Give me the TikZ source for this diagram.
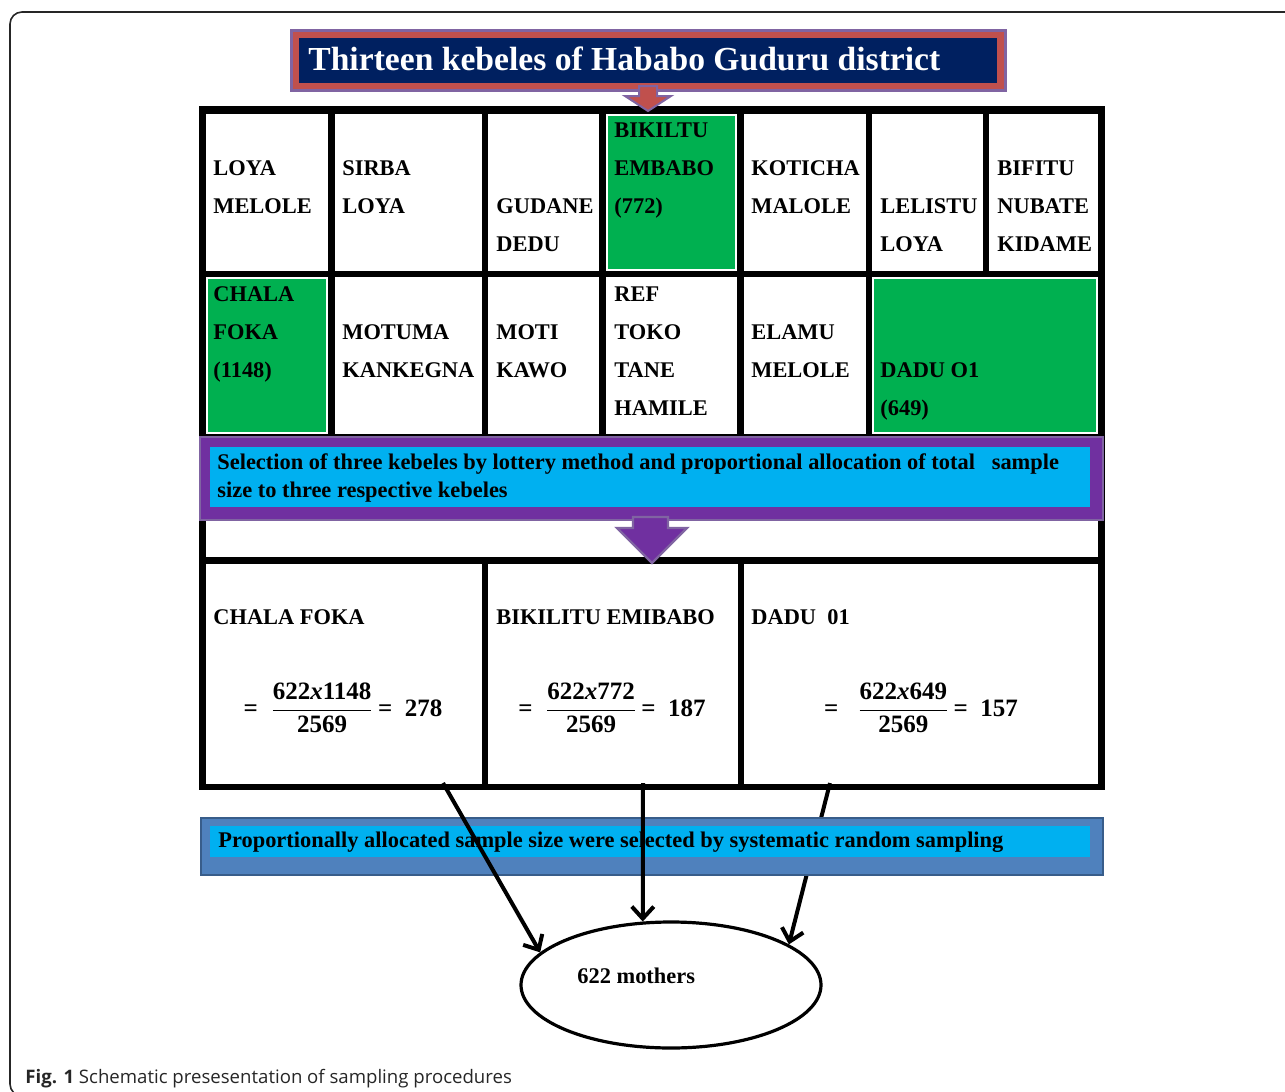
\documentclass[tikz,border=0pt]{standalone}
\usepackage{amsmath}
\usepackage{fontspec}
\setmainfont{Liberation Serif}
\newfontfamily\capfont{Open Sans}
\usepackage{xcolor}
\usetikzlibrary{
  arrows.meta,
  calc,
  shapes.geometric
}
\definecolor{tnavy}{HTML}{002060}
\definecolor{tred}{HTML}{C0504D}
\definecolor{tpurple}{HTML}{8064A2}
\definecolor{kgreen}{HTML}{00B050}
\definecolor{spurple}{HTML}{7030A0}
\definecolor{scyan}{HTML}{00B0F0}
\definecolor{bblue}{HTML}{4F81BD}
\definecolor{bdark}{HTML}{385D8A}
\newcommand{\kfont}{\fontsize{11.2}{19}\selectfont\bfseries}
\newcommand{\selfont}{\fontsize{11.2}{14}\selectfont\bfseries}
\newcommand{\fracfont}{\fontsize{12.5}{15}\selectfont\bfseries}

\begin{document}
\begin{tikzpicture}[
    x=0.5pt, y=-0.5pt,
    cell/.style={
      fill=white,
      draw=black,
      double=white,
      double distance=0.6pt,
      line width=0.4pt
    },
    gcell/.style={cell, fill=kgreen},
    kname/.style={
      anchor=base west,
      align=left,
      inner sep=0pt,
      font=\kfont
    },
    band/.style={
      anchor=base west,
      align=left,
      inner sep=0pt,
      font=\selfont
    },
    frm/.style={inner sep=0pt, font=\fracfont},
    ar/.style={-{Straight Barb[length=6pt,width=11pt]}, line width=2pt}
  ]
    \useasboundingbox (0,0) rectangle (1285,1092);

    % outer frame of the figure
    \draw[line width=0.8pt, black!85, rounded corners=6pt] (10,12) rectangle (1300,1096);

    % Title banner
    \fill[tpurple] (290,29) rectangle (1007,92);
    \fill[tred] (293,32) rectangle (1004,89);
    \fill[tnavy] (299,38) rectangle (997,83);
    \node[anchor=base west, inner sep=0pt, text=white,
      font=\fontsize{16.8}{20}\selectfont\bfseries] (title) at (308,70)
      {Thirteen kebeles of Hababo Guduru district};

    % Table of the thirteen kebeles
    \fill[black] (199,106) rectangle (1105,790);
    \draw[cell] (207,115) rectangle (327,270);
    \draw[cell] (336,115) rectangle (481,270);
    \draw[cell] (489,115) rectangle (598,270);
    \draw[gcell] (607,115) rectangle (736,270);
    \draw[cell] (745,115) rectangle (865,270);
    \draw[cell] (873,115) rectangle (982,270);
    \draw[cell] (990,115) rectangle (1097,270);

    \draw[gcell] (207,278) rectangle (327,433);
    \draw[cell] (336,278) rectangle (481,433);
    \draw[cell] (489,278) rectangle (598,433);
    \draw[cell] (607,278) rectangle (736,433);
    \draw[cell] (745,278) rectangle (865,433);
    \draw[gcell] (873,278) rectangle (1097,433);

    \draw[cell] (207,441) rectangle (1097,556);

    \draw[cell] (207,565) rectangle (481,783);
    \draw[cell] (489,565) rectangle (737,783);
    \draw[cell] (745,565) rectangle (1097,783);

    % arrow from the title into the table
    \filldraw[fill=tred, draw=tpurple, line width=1pt]
      (639,86) -- (657,86) -- (657,96) -- (671,96) -- (648,111)
      -- (625,96) -- (639,96) -- cycle;

    % kebele names, first row (placed at the last line)
    \node[kname] (k1) at (213,213) {LOYA\\MELOLE};
    \node[kname] (k2) at (342,213) {SIRBA\\LOYA};
    \node[kname] (k3) at (496,251) {GUDANE\\DEDU};
    \node[kname] (k4) at (614,213) {BIKILTU\\EMBABO\\(772)};
    \node[kname] (k5) at (751,213) {KOTICHA\\MALOLE};
    \node[kname] (k6) at (880,251) {LELISTU\\LOYA};
    \node[kname] (k7) at (997,251) {BIFITU\\NUBATE\\KIDAME};

    % kebele names, second row
    \node[kname] (k8) at (213,377) {CHALA\\FOKA\\(1148)};
    \node[kname] (k9) at (342,377) {MOTUMA\\KANKEGNA};
    \node[kname] (k10) at (496,377) {MOTI\\KAWO};
    \node[kname] (k11) at (614,415) {REF\\TOKO\\TANE\\HAMILE};
    \node[kname] (k12) at (751,377) {ELAMU\\MELOLE};
    \node[kname] (k13) at (880,415) {DADU O1\\(649)};

    % Selection band
    \filldraw[fill=spurple, draw=tpurple, line width=1.2pt] (200,437) rectangle (1103,520);
    \fill[scyan] (210,447) rectangle (1090,507);
    \node[band] (sel) at (217,497)
      {Selection of three kebeles by lottery method and proportional allocation of total\ \ \ sample\\
       size to three respective kebeles};
    \filldraw[fill=spurple, draw=tpurple, line width=1.2pt]
      (633,517) -- (668,517) -- (668,528) -- (687,528) -- (652,563)
      -- (617,528) -- (633,528) -- cycle;

    % Proportional allocation
    \node[kname] (p1) at (213,624) {CHALA FOKA};
    \node[kname] (p2) at (496,624) {BIKILITU EMIBABO};
    \node[kname] (p3) at (751,624) {DADU\ \ 01};

    \node[frm] (f1) at (343,708)
      {=\ \ $\dfrac{\text{622\textit{x}1148}}{\text{2569}}$\,=\ \ 278};
    \node[frm] (f2) at (612,708)
      {=\ \ $\dfrac{\text{622\textit{x}772}}{\text{2569}}$\,=\ \ 187};
    \node[frm] (f3) at (921,708)
      {=\ \ \ $\dfrac{\text{622\textit{x}649}}{\text{2569}}$\,=\ \ 157};

    \coordinate (s1) at (443,783);
    \coordinate (s2) at (643,783);
    \coordinate (s3) at (830,783);

    % Sample
    \node[ellipse, draw, line width=1.6pt, fill=white,
      minimum width=150pt, minimum height=63pt] (moth) at (671,985) {};
    \node[band] (mlab) at (577,983) {622 mothers};

    \draw[ar] (s3) -- (moth.19);

    % systematic random sampling band
    \filldraw[fill=bblue, draw=bdark, line width=1.2pt] (201,818) rectangle (1103,875);
    \fill[scyan] (210,826) rectangle (1090,857);
    \node[band] (sys) at (218,847)
      {Proportionally allocated sample size were selected by systematic random sampling};

    \draw[ar] (s1) -- (moth.166);
    \draw[ar] (s2) -- (moth.114);

    % caption
    \node[anchor=base west, inner sep=0pt, text=black!85,
      font=\capfont\fontsize{9.3}{11}\selectfont] (cap) at (25,1083)
      {\textbf{Fig. 1} Schematic presesentation of sampling procedures};

  \end{tikzpicture}
\end{document}
